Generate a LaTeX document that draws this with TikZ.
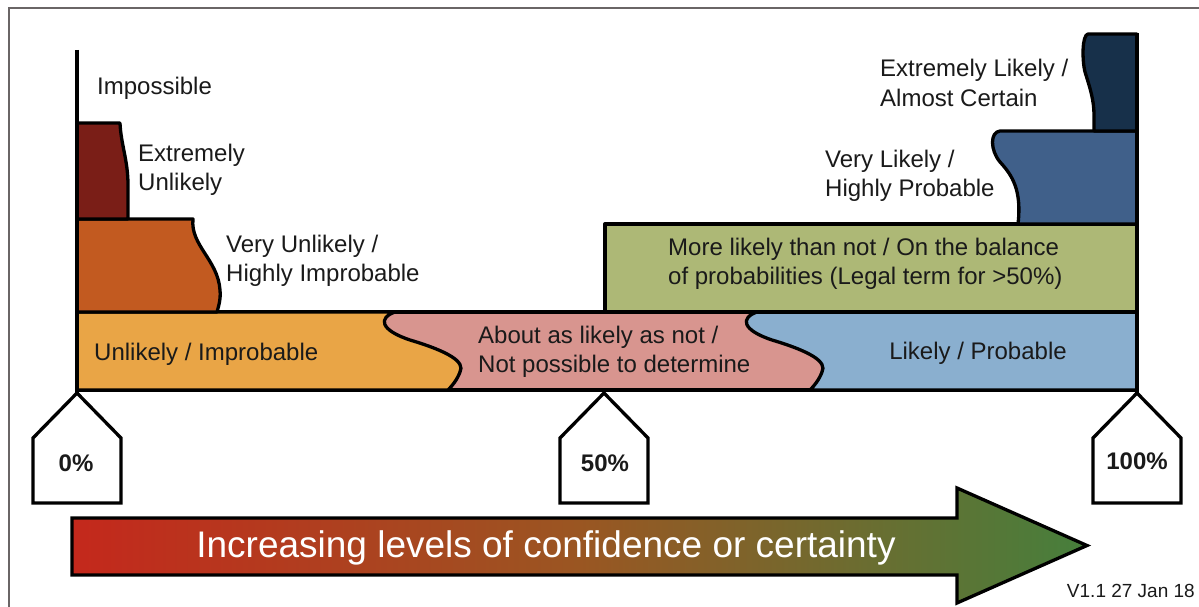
\documentclass[tikz,border=0pt]{standalone}
\usepackage{fontspec}
\setmainfont{Liberation Sans}
\definecolor{txt}{HTML}{1A1A1A}
\definecolor{framegray}{HTML}{6A6566}
\definecolor{cMaroon}{HTML}{7A1E17}
\definecolor{cBurnt}{HTML}{C25A20}
\definecolor{cOrange}{HTML}{E9A546}
\definecolor{cPink}{HTML}{D8958F}
\definecolor{cLight}{HTML}{8AAFCF}
\definecolor{cOlive}{HTML}{ADB876}
\definecolor{cSteel}{HTML}{40608A}
\definecolor{cNavy}{HTML}{17304A}
\definecolor{arrRed}{HTML}{C4281C}
\definecolor{arrMid}{HTML}{9A5622}
\definecolor{arrGreen}{HTML}{467F3C}
\begin{document}
\begin{tikzpicture}[x=1pt,y=-1pt,
  lbl/.style={font=\fontsize{24}{29.5}\selectfont, text=txt, inner sep=0pt, align=left},
  band/.style={draw=black, line width=3.3pt, line join=round},
  tagbox/.style={draw=black, line width=3.3pt, fill=white, line join=miter},
  pct/.style={font=\fontsize{24}{28}\selectfont\bfseries, text=txt, inner sep=0pt},
  axisline/.style={draw=black, line width=3.3pt}]

\useasboundingbox (0,0) rectangle (1199,607);
\fill[white] (0,0) rectangle (1199,607);
\draw[framegray, line width=2.5pt] (9,8) rectangle (1230,640);

% base bar
\path[band, fill=cPink] (77,312) rectangle (1137,390);
\path[band, fill=cOrange] (77,312) -- (395,312)
  .. controls (378,318) and (380,330) .. (410,340)
  .. controls (450,352) and (465,362) .. (460,372)
  .. controls (457,380) and (452,386) .. (448,390) -- (77,390) -- cycle;
\path[band, fill=cLight] (1137,312) -- (757,312)
  .. controls (740,318) and (742,330) .. (772,340)
  .. controls (812,352) and (827,362) .. (822,372)
  .. controls (819,380) and (814,386) .. (810,390) -- (1137,390) -- cycle;

% middle layer
\path[band, fill=cOlive] (605,224) rectangle (1137,312);
\path[band, fill=cBurnt] (77,219) -- (193,219)
  .. controls (190,245) and (218,260) .. (220,290)
  .. controls (221,300) and (218,308) .. (217,312) -- (77,312) -- cycle;
\path[band, fill=cSteel] (1137,131) -- (1000,131)
  .. controls (990,132) and (990,150) .. (1000,162)
  .. controls (1012,175) and (1022,190) .. (1018,224) -- (1137,224) -- cycle;

% top layer
\path[band, fill=cMaroon] (77,123) -- (120,123)
  .. controls (121,145) and (128,160) .. (128,185) -- (128,219) -- (77,219) -- cycle;
\path[band, fill=cNavy] (1137,34) -- (1088,34)
  .. controls (1082,35) and (1082,60) .. (1085,72)
  .. controls (1090,88) and (1094,100) .. (1094,115) -- (1094,131) -- (1137,131) -- cycle;

% axes
\coordinate (ltop) at (77,50);
\coordinate (p0) at (77,393);
\coordinate (p50) at (604,393);
\coordinate (rtop) at (1137,33);
\coordinate (p100) at (1137,393);
\draw[axisline] (ltop) -- (p0);
\draw[axisline] (rtop) -- (p100);

% percentage tags
\foreach \p in {p0,p50,p100}{
  \draw[tagbox] (\p) -- ++(44,45) -- ++(0,65) -- ++(-88,0) -- ++(0,-65) -- cycle;
}
\node[pct] (t0) at (76,463) {0\%};
\node[pct] (t50) at (605,463) {50\%};
\node[pct] (t100) at (1137,461) {100\%};

% arrow
\shadedraw[draw=black, line width=3.3pt, line join=miter, left color=arrRed, right color=arrGreen, middle color=arrMid]
  (72,518) -- (957,518) -- (957,488) -- (1087,545.5) -- (957,603) -- (957,575) -- (72,575) -- cycle;
\node[font=\fontsize{37}{40}\selectfont, text=white, inner sep=0pt] (arrtxt) at (546,548) {Increasing levels of confidence or certainty};

% labels
\node[lbl, anchor=west] (imp) at (97,88) {Impossible};
\node[lbl, anchor=west] (exu) at (138,170) {Extremely\\Unlikely};
\node[lbl, anchor=west] (vun) at (226,261) {Very Unlikely /\\Highly Improbable};
\node[lbl, anchor=west] (unl) at (94,354) {Unlikely / Improbable};
\node[lbl, anchor=west] (abt) at (478,352) {About as likely as not /\\Not possible to determine};
\node[lbl] (lik) at (978,353) {Likely / Probable};
\node[lbl, anchor=west] (mor) at (668,264) {More likely than not / On the balance\\of probabilities (Legal term for >50\%)};
\node[lbl, anchor=west] (vli) at (825,176) {Very Likely /\\Highly Probable};
\node[lbl, anchor=west] (exl) at (880,83) {Extremely Likely /\\Almost Certain};
\node[font=\fontsize{19}{22}\selectfont, text=txt, inner sep=0pt, anchor=east] (ver) at (1195,591) {V1.1 27 Jan 18};
\end{tikzpicture}
\end{document}
